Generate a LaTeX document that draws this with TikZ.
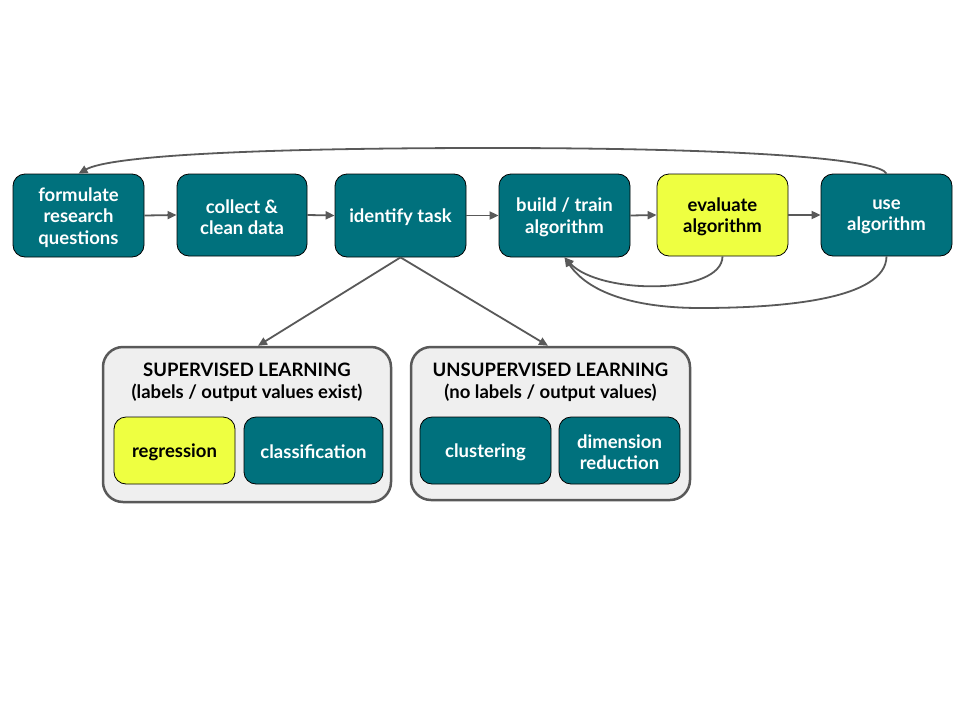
\documentclass[tikz,border=0pt]{standalone}
\usepackage{fontspec}
\setmainfont{Lato}
\usetikzlibrary{arrows.meta}
\definecolor{teal}{HTML}{00717D}
\definecolor{lime}{HTML}{EEFF41}
\definecolor{arr}{HTML}{595959}
\definecolor{panel}{HTML}{EFEFEF}
\begin{document}
\begin{tikzpicture}[x=1pt,y=-1pt,
  box/.style={draw=black,line width=0.8pt,fill=teal,rounded corners=12pt,inner sep=0pt},
  ybox/.style={box,fill=lime},
  wt/.style={text=white,font=\fontsize{18.5}{21.5}\selectfont\bfseries,align=center,inner sep=0pt},
  bt/.style={wt,text=black},
  grp/.style={draw=arr,line width=2.5pt,fill=panel,rounded corners=20pt,inner sep=0pt},
  con/.style={draw=arr,line width=1.8pt,-{Triangle[length=9pt,width=8pt]}},
  ttl/.style={font=\fontsize{18.5}{22}\selectfont\bfseries,align=center,text=black}]
\useasboundingbox (0,0) rectangle (960,720);
\fill[white] (0,0) rectangle (960,720);
% top row
\node[box,minimum width=131pt,minimum height=83pt] (f) at (78.5,215.5) {};
\node[box,minimum width=130pt,minimum height=82pt] (c) at (242,215) {};
\node[box,minimum width=131pt,minimum height=83pt] (i) at (400.5,215.5) {};
\node[box,minimum width=131pt,minimum height=83pt] (b) at (564.5,215.5) {};
\node[ybox,minimum width=131pt,minimum height=82pt] (e) at (722.5,215) {};
\node[box,minimum width=131pt,minimum height=82pt] (u) at (886.5,215) {};
\node[wt] (ft) at ([yshift=-2pt]f.center) {formulate\\research\\questions};
\node[wt] (ct) at ([yshift=-2pt]c.center) {collect \&\\clean data};
\node[wt] (it) at ([yshift=-2pt]i.center) {identify task};
\node[wt] (bxt) at ([yshift=-2pt]b.center) {build / train\\algorithm};
\node[bt] (et) at ([yshift=-2pt]e.center) {evaluate\\algorithm};
\node[wt] (ut) at ([yshift=-2pt]u.center) {use\\algorithm};
% groups
\node[grp,minimum width=288pt,minimum height=155pt] (s) at (247,424.5) {};
\node[grp,minimum width=279pt,minimum height=153pt] (n) at (550.5,423.5) {};
\node[ttl] (st) at (247,382.5) {SUPERVISED LEARNING\\(labels / output values exist)};
\node[ttl] (nt) at (550.5,382.5) {UNSUPERVISED LEARNING\\(no labels / output values)};
\node[ybox,minimum width=121pt,minimum height=67pt] (r) at (174.5,450.5) {};
\node[box,minimum width=139pt,minimum height=67pt] (cl) at (313.5,450.5) {};
\node[box,minimum width=131pt,minimum height=67pt] (cu) at (485.5,450.5) {};
\node[box,minimum width=121pt,minimum height=67pt] (d) at (619.5,450.5) {};
\node[bt] (rt) at ([yshift=-1.5pt]r.center) {regression};
\node[wt] (clt) at ([yshift=-1.5pt]cl.center) {classification};
\node[wt] (cut) at ([yshift=-1.5pt]cu.center) {clustering};
\node[wt] (dt) at ([yshift=-1.5pt]d.center) {dimension\\reduction};
% connectors
\draw[con] (f.east) -- (c.west);
\draw[con] (c.east) -- (i.west);
\draw[con] (i.east) -- (b.west);
\draw[con] (b.east) -- (e.west);
\draw[con] (e.east) -- (u.west);
\draw[con] (i.south) -- (s.north -| 258,0);
\draw[con] (i.south) -- (n.north -| 548,0);
\draw[con] (u.north) .. controls (880,160) and (760,148) .. (490,148) .. controls (250,148) and (110,156) .. (f.north);
\draw[con] (e.south) .. controls (722,295) and (600,295) .. (b.south);
\draw[con] (u.south) .. controls (886,300) and (780,308) .. (700,308) .. controls (640,308) and (590,295) .. (b.south);
\end{tikzpicture}
\end{document}
